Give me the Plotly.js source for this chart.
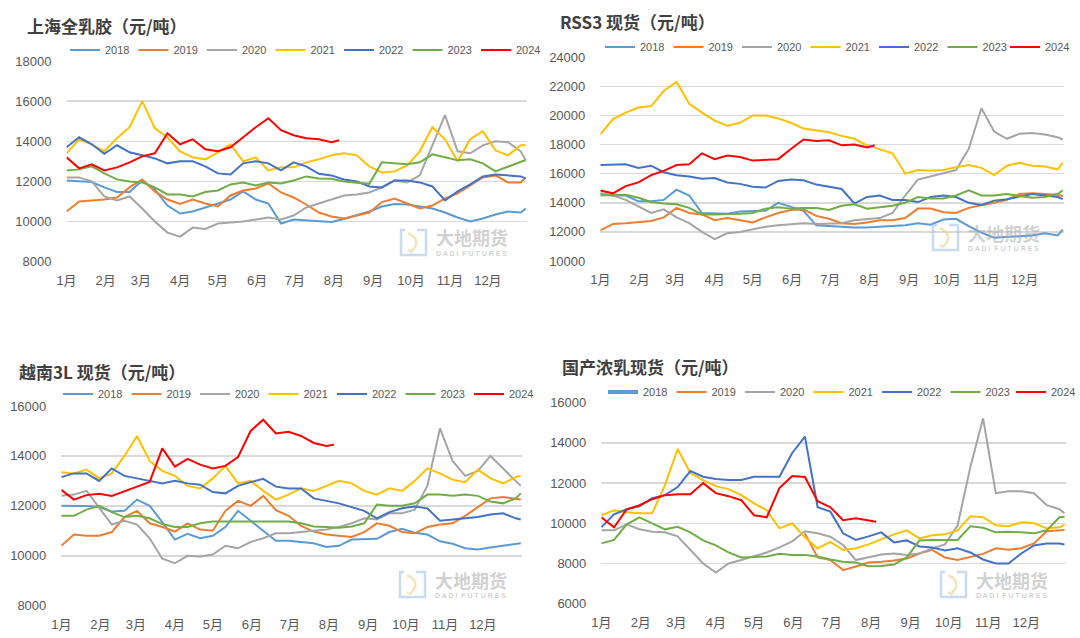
<!DOCTYPE html>
<html><head><meta charset="utf-8">
<script src="https://cdn.plot.ly/plotly-3.0.1.min.js"></script>
<style>html,body{margin:0;padding:0;background:#fff;}#chart{width:1080px;height:638px;}</style>
</head><body><div id="chart"></div>
<script>
// ---- data ----
const years = ['2018','2019','2020','2021','2022','2023','2024'];
const monthLabels = ['1月','2月','3月','4月','5月','6月','7月','8月','9月','10月','11月','12月'];
const monthStarts = [0,31,59,90,120,151,181,212,243,273,304,334];
const days = [0,10,20,30,40,50,60,70,80,90,100,110,120,130,140,150,160,170,180,190,200,210,220,230,240,250,260,270,280,290,300,310,320,330,340,350,360,364];
const days2024 = [0,10,20,30,40,50,60,70,80,90,100,110,120,130,140,150,160,170,180,190,200,210,216];

// 上海全乳胶
const sh2018 = [12050,12000,11970,11700,11470,11470,12050,11600,10800,10400,10500,10700,10900,11100,11500,11100,10900,9900,10100,10050,10000,9980,10130,10300,10500,10750,10880,10850,10750,10650,10450,10200,10000,10150,10350,10500,10450,10650];
const sh2019 = [10500,11000,11050,11100,11200,11700,12100,11500,11100,10880,11100,10900,10750,11300,11550,11650,11900,11450,11200,10850,10450,10250,10150,10300,10450,10970,11150,10900,10650,10800,11150,11400,11800,12200,12300,11950,11950,12200];
const sh2020 = [12200,12200,12000,11250,11050,11250,10650,10000,9450,9250,9700,9630,9900,9950,10000,10100,10200,10100,10300,10700,10900,11100,11300,11350,11450,11700,12050,11950,12300,13800,15300,13500,13400,13800,14000,13950,13500,13050];
const sh2021 = [13400,14100,13850,13500,14150,14700,16000,14650,14200,13500,13200,13100,13450,13850,13000,13200,12550,12700,12700,12950,13100,13300,13400,13300,12750,12450,12500,12800,13500,14700,14100,13000,14100,14500,13550,13300,13800,13800];
const sh2022 = [13700,14200,13850,13380,13800,13450,13300,13150,12900,13000,13000,12750,12400,12350,12900,13000,12900,12550,12950,12750,12380,12300,12100,12000,11750,11700,12050,12050,11950,11750,11050,11500,11850,12250,12350,12300,12250,12150];
const sh2023 = [12550,12600,12750,12400,12100,12000,11950,11700,11350,11350,11250,11470,11550,11850,11950,11800,11950,11900,12050,12250,12150,12130,12000,11950,11880,12950,12900,12850,12950,13350,13200,13050,13100,12900,12500,12750,13000,13070];
const sh2024 = [13200,12650,12850,12550,12700,12950,13250,13400,14400,13850,14100,13600,13500,13700,14200,14700,15150,14550,14300,14150,14100,13950,14050];

// RSS3 现货
const rss2018 = [14650,14500,14500,14100,14100,14200,14900,14500,13300,13300,13250,13400,13400,13450,14000,13700,13450,12450,12400,12300,12300,12300,12350,12350,12450,12600,12500,12850,12900,12400,11950,11600,11650,11700,11750,11900,11750,12150];
const rss2019 = [12100,12550,12600,12650,12750,13000,13650,13300,13200,12800,12950,12800,12650,13000,13300,13500,13550,13100,12900,12600,12550,12650,12800,12800,12950,13600,13600,13350,13300,13650,13800,14000,14200,14600,14650,14600,14550,14450];
const rss2020 = [14600,14500,14200,13750,13300,13550,13000,12600,12000,11500,11900,12000,12200,12350,12450,12550,12600,12550,12550,12600,12800,12900,12950,13300,14500,15600,15800,16000,16250,17700,20500,18900,18400,18750,18800,18700,18500,18350];
const rss2021 = [18700,19750,20200,20550,20650,21700,22300,20800,20200,19650,19300,19500,20000,20000,19800,19500,19100,18950,18850,18600,18400,17950,17650,17400,16000,16250,16200,16250,16450,16600,16400,15900,16550,16750,16550,16500,16300,16750];
const rss2022 = [16600,16600,16650,16400,16550,16100,15900,15800,15650,15700,15400,15300,15100,15050,15500,15600,15550,15250,15100,14950,13950,14400,14500,14200,14200,14050,14400,14500,14400,14000,13850,14150,14250,14400,14600,14500,14400,14250];
const rss2023 = [14500,14550,14550,14350,14050,13950,13900,13650,13200,13200,13200,13250,13300,13600,13700,13600,13650,13650,13500,13800,13900,13600,13700,13800,14000,14400,14300,14300,14500,14850,14500,14500,14600,14450,14350,14400,14600,14850];
const rss2024 = [14850,14650,15150,15400,15900,16200,16600,16650,17400,17000,17250,17150,16900,16950,17000,17700,18350,18250,18300,17950,18000,17800,17950];

// 越南3L 现货
const vn2018 = [12000,12000,11990,11950,11770,11800,12250,12000,11350,10650,10880,10700,10800,11150,11800,11400,11000,10600,10600,10550,10500,10350,10400,10650,10680,10680,10950,11080,10920,10850,10580,10480,10300,10250,10330,10400,10450,10500];
const vn2019 = [10400,10850,10800,10800,10950,11550,11800,11300,11150,10970,11300,11050,11000,11800,12200,12000,12400,11830,11600,11200,10970,10850,10800,10750,10950,11300,11200,10950,10900,11150,11250,11300,11600,11950,12300,12350,12300,12250];
const vn2020 = [12400,12450,12600,11900,11250,11400,11250,10700,9880,9700,10000,9970,10050,10400,10300,10550,10700,10900,10900,10950,11000,11050,11150,11300,11500,11450,11700,11700,11850,12800,15100,13800,13200,13400,14000,13500,13000,12800];
const vn2021 = [13350,13300,13450,13100,13300,14000,14800,13800,13400,13200,12800,12700,13100,13600,12900,13000,12600,12250,12450,12700,12600,12800,13000,12900,12600,12450,12700,12600,13000,13500,13300,13050,12950,13450,13100,12900,13150,13200];
const vn2022 = [13150,13300,13300,13000,13500,13200,13100,13000,12900,13000,12900,12850,12550,12500,12800,12950,13080,12770,12700,12700,12300,12200,12100,11950,11800,11500,11750,11900,11970,11900,11400,11450,11500,11550,11650,11700,11500,11450];
const vn2023 = [11600,11600,11850,12000,11750,11550,11600,11500,11270,11150,11150,11300,11370,11370,11370,11370,11400,11400,11370,11300,11170,11150,11120,11170,11300,12050,12000,12000,12100,12450,12450,12400,12450,12400,12170,12100,12300,12500];
const vn2024 = [12640,12250,12430,12480,12400,12600,12770,12960,14300,13570,13880,13650,13500,13600,13950,15000,15450,14900,14970,14800,14520,14400,14450];

// 国产浓乳现货 (2018: a single value only, no visible line)
const cn2018 = [9800];
const cn2019 = [null,null,null,null,null,null,null,null,null,null,null,null,null,null,null,null,9500,8300,8170,7670,7850,8050,8090,8150,8250,8500,8680,8300,8170,8340,8480,8760,8680,8760,9000,9600,9670,9670];
const cn2020 = [9650,9650,9950,9700,9580,9550,9350,8700,8000,7550,8000,8170,8350,8550,8800,9100,9600,9500,9330,8920,8170,8300,8450,8500,8420,8500,8750,8950,9900,12800,15220,11500,11600,11600,11500,10900,10700,10500];
const cn2021 = [10400,10650,10550,10500,10500,11900,13700,12500,12150,11850,11700,11400,10990,10650,9750,10000,9300,8750,9080,8670,8760,8950,9200,9450,9650,9250,9400,9450,9650,10350,10300,9900,9850,10050,10000,9750,9800,9920];
const cn2022 = [9800,10450,10700,10850,11250,11400,11800,12600,12320,12200,12150,12150,12320,12320,12320,13500,14310,10800,10580,9500,9170,9350,9550,9050,9150,8850,8800,8650,8760,8550,8200,8000,8000,8500,8900,9000,9000,8950];
const cn2023 = [9000,9170,9950,10300,10000,9700,9830,9550,9150,8900,8550,8300,8320,8350,8480,8420,8420,8350,8200,8090,8050,7860,7880,7950,8300,9150,9170,9170,9170,9850,9780,9550,9580,9550,9500,9650,10300,10330];
const cn2024 = [10300,9800,10700,10900,11200,11400,11450,11450,12000,11500,11350,11150,10400,10300,11750,12350,12300,11100,10800,10150,10250,10150,10080];

// ---- styling ----
const colors = ['#5B9BD5','#ED7D31','#A5A5A5','#FFC000','#4472C4','#70AD47','#FF0000'];
const W = 1080, H = 638;
const px = x => x / W;
const py = y => (H - y) / H;

// legA: legend for first items, legB: optional separate legend for 2024 (to avoid auto-shift at right edge)
const panels = [
  {series:[sh2018,sh2019,sh2020,sh2021,sh2022,sh2023,sh2024], dom:[66.5,527,61,261.7], yr:[8000,18000], title:'上海全乳胶（元/吨）', tpos:[25,25], leg:[65,50], step:67.8, split:false, wm:[399,228]},
  {series:[rss2018,rss2019,rss2020,rss2021,rss2022,rss2023,rss2024], dom:[600.3,1064,57.3,261], yr:[10000,24000], title:'RSS3 现货（元/吨）', tpos:[558,22], leg:[600,47], step:67.5, split:true, wm:[931,223]},
  {series:[vn2018,vn2019,vn2020,vn2021,vn2022,vn2023,vn2024], dom:[61.3,522,406,605.7], yr:[8000,16000], title:'越南3L 现货（元/吨）', tpos:[17,372], leg:[58,394], step:67.5, split:false, wm:[398,570]},
  {series:[cn2018,cn2019,cn2020,cn2021,cn2022,cn2023,cn2024], dom:[601.3,1065.8,402.7,603.7], yr:[6000,16000], title:'国产浓乳现货（元/吨）', tpos:[560,367], leg:[603,392], step:68, split:true, wm:[939,570]}
];

const data = [];
const layout = {
  width: W, height: H, margin:{l:0,r:0,t:0,b:0},
  paper_bgcolor:'#ffffff', plot_bgcolor:'#ffffff',
  showlegend:true, annotations:[], shapes:[],
  font:{family:'Liberation Sans, Noto Sans CJK SC, sans-serif', color:'#595959'}
};

function legendObj(x, y) {
  return {
    orientation:'h', x: px(x), y: py(y), xanchor:'left', yanchor:'middle',
    font:{size:11, color:'#595959', family:'Liberation Sans'},
    bgcolor:'rgba(0,0,0,0)', borderwidth:0, entrywidth: 23.5, entrywidthmode:'pixels',
    itemwidth:30, tracegroupgap:0, traceorder:'normal', itemclick:false, itemdoubleclick:false
  };
}

let extraLegend = 5;
panels.forEach((p, i) => {
  const n = i + 1;
  const sfx = n === 1 ? '' : String(n);
  const legName = 'legend' + sfx;
  layout[legName] = legendObj(p.leg[0], p.leg[1]);
  let legLast = legName;
  if (p.split) {
    legLast = 'legend' + extraLegend++;
    layout[legLast] = legendObj(p.leg[0] + 6 * p.step, p.leg[1]);
  }
  p.series.forEach((vals, k) => {
    const isLast = k === 6;
    data.push({
      type:'scatter', mode:'lines', name: years[k],
      x: isLast ? days2024 : days.slice(0, vals.length),
      y: vals,
      xaxis: 'x' + sfx, yaxis: 'y' + sfx,
      legend: isLast ? legLast : legName,
      line:{color: colors[k], width: (n === 4 && k === 0) ? 4 : 2},
      connectgaps:false, hoverinfo:'skip'
    });
  });
  layout['xaxis' + sfx] = {
    domain:[px(p.dom[0]), px(p.dom[1])], range:[0,365], anchor: 'y' + sfx,
    tickmode:'array', tickvals: monthStarts, ticktext: monthLabels,
    showgrid:false, zeroline:false, showline:false, ticks:'',
    tickfont:{size:13, color:'#595959', family:'Liberation Sans, Noto Sans CJK SC'},
    ticklabelstandoff: 9, fixedrange:true
  };
  const ticks = [];
  for (let v = p.yr[0]; v <= p.yr[1]; v += 2000) ticks.push(v);
  layout['yaxis' + sfx] = {
    domain:[py(p.dom[3]), py(p.dom[2])], range:p.yr, anchor: 'x' + sfx,
    tickmode:'array', tickvals: ticks, tickformat:'d',
    showgrid:true, gridcolor:'#D9D9D9', gridwidth:1.5, zeroline:false, showline:false, ticks:'',
    tickfont:{size:13, color:'#595959', family:'Liberation Sans'},
    ticklabelstandoff: 14, fixedrange:true
  };
  layout.annotations.push({
    xref:'paper', yref:'paper', x: px(p.tpos[0]), y: py(p.tpos[1]), xanchor:'left', yanchor:'middle',
    text:'<b>' + p.title + '</b>', showarrow:false,
    font:{size:17, color:'#404040', family:'Noto Sans CJK SC'}
  });
  // watermark
  const wx = p.wm[0], wy = p.wm[1];
  layout.annotations.push({
    xref:'paper', yref:'paper', x: px(wx + 35), y: py(wy + 9.5), xanchor:'left', yanchor:'middle',
    text:'<b>大地期货</b>', showarrow:false,
    font:{size:18, color:'rgba(170,170,170,0.55)', family:'Noto Sans CJK SC'}
  });
  layout.annotations.push({
    xref:'paper', yref:'paper', x: px(wx + 35), y: py(wy + 25), xanchor:'left', yanchor:'middle',
    text:'<b>D A D I  F U T U R E S</b>', showarrow:false,
    font:{size:7, color:'rgba(170,170,170,0.55)', family:'Liberation Sans'}
  });
  const P = (x, y) => px(x).toFixed(5) + ',' + py(y).toFixed(5);
  layout.shapes.push({
    type:'path', xref:'paper', yref:'paper', layer:'above',
    path: 'M' + P(wx+6, wy+2) + ' L' + P(wx+2, wy+2) + ' L' + P(wx+2, wy+27) + ' L' + P(wx+27, wy+27) + ' L' + P(wx+27, wy+2) + ' L' + P(wx+18, wy+2),
    line:{color:'rgba(155,190,225,0.55)', width:2.5}
  });
  layout.shapes.push({
    type:'path', xref:'paper', yref:'paper', layer:'above',
    path: 'M' + P(wx+9, wy+5) + ' Q' + P(wx+24, wy+12) + ' ' + P(wx+12, wy+24) + ' L' + P(wx+9, wy+22),
    line:{color:'rgba(235,210,140,0.6)', width:2.5}
  });
});

Plotly.newPlot('chart', data, layout, {staticPlot:true, displayModeBar:false});
</script></body></html>
